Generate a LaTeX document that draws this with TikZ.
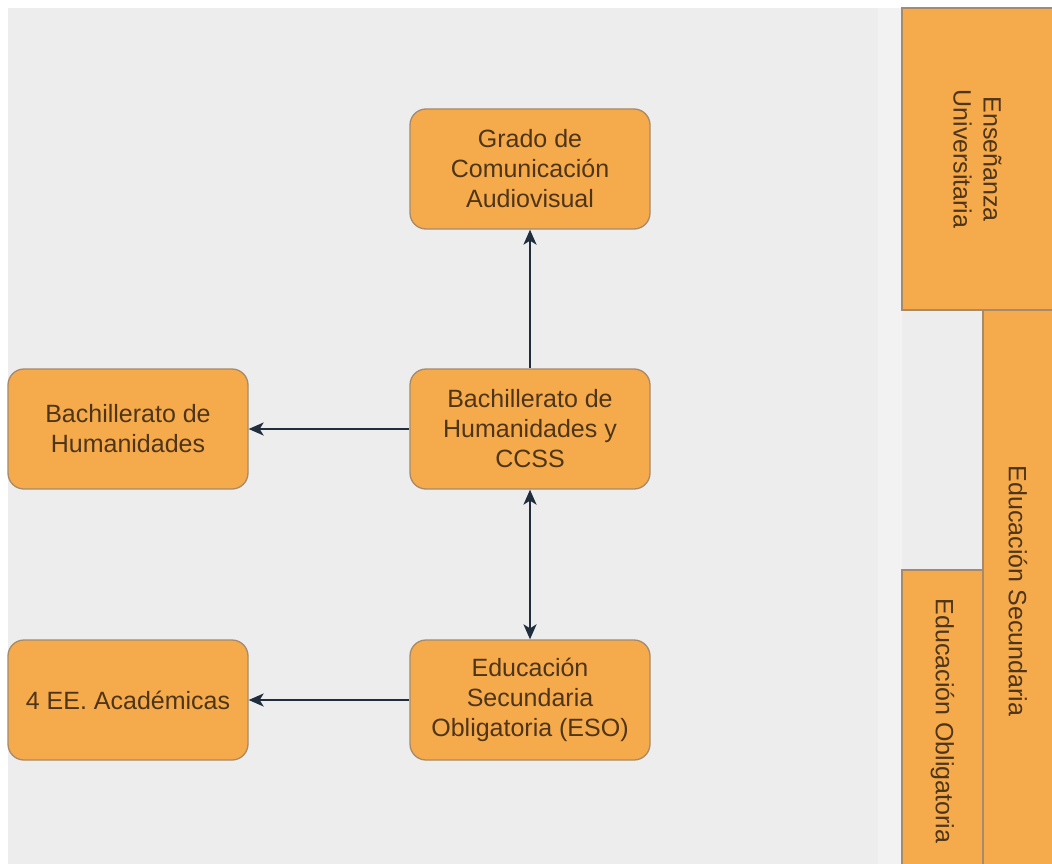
\documentclass[tikz,border=0pt]{standalone}
\usepackage{fontspec}
\setmainfont{Liberation Sans}
\usetikzlibrary{arrows.meta}
\definecolor{bgray}{HTML}{EDEDED}
\definecolor{bstrip}{HTML}{F2F2F2}
\definecolor{orfill}{HTML}{F5AA4C}
\definecolor{orline}{HTML}{A68A6B}
\definecolor{txtc}{HTML}{4E3519}
\definecolor{arrc}{HTML}{1F2D3C}
\begin{document}
\begin{tikzpicture}[x=1pt,y=-1pt,
  box/.style={draw=orline, line width=1.3pt, fill=orfill, rounded corners=16pt,
    minimum width=240pt, minimum height=120pt, inner sep=0pt, align=center,
    text=txtc, font=\fontsize{25}{30}\selectfont},
  band/.style={draw=orline, line width=1.3pt, fill=orfill, inner sep=0pt,
    align=center, text=txtc, font=\fontsize{25}{30}\selectfont, rotate=-90},
  tip/.tip={Stealth[length=15pt,width=13pt,inset=4pt]},
  conn/.style={draw=arrc, line width=2pt, -tip},
  conn2/.style={draw=arrc, line width=2pt, tip-tip}]
\useasboundingbox (0,0) rectangle (1052,864);
\clip (0,0) rectangle (1052,864);
\fill[white] (0,0) rectangle (1052,864);
\fill[bgray] (8,8) rectangle (878,864);
\fill[bstrip] (878,8) rectangle (902,864);
\fill[bgray] (902,8) rectangle (1052,864);
% side bands
\node[band, minimum width=302pt, minimum height=151pt] (univ) at (977.5,159) {Enseñanza\\Universitaria};
\node[band, minimum width=562pt, minimum height=70pt] (secu) at (1018,591) {Educación Secundaria};
\node[band, minimum width=302pt, minimum height=81pt] (oblig) at (942.5,721) {Educación Obligatoria};
% main boxes
\node[box] (grado) at (530,169) {Grado de\\Comunicación\\Audiovisual};
\node[box] (bachh) at (128,429) {Bachillerato de\\Humanidades};
\node[box] (bachc) at (530,429) {Bachillerato de\\Humanidades y\\CCSS};
\node[box] (eso) at (530,700) {Educación\\Secundaria\\Obligatoria (ESO)};
\node[box] (ee) at (128,700) {4 EE. Académicas};
% connectors
\draw[conn] (bachc.north) -- (grado.south);
\draw[conn] (bachc.west) -- (bachh.east);
\draw[conn2] (bachc.south) -- (eso.north);
\draw[conn] (eso.west) -- (ee.east);
\end{tikzpicture}
\end{document}
